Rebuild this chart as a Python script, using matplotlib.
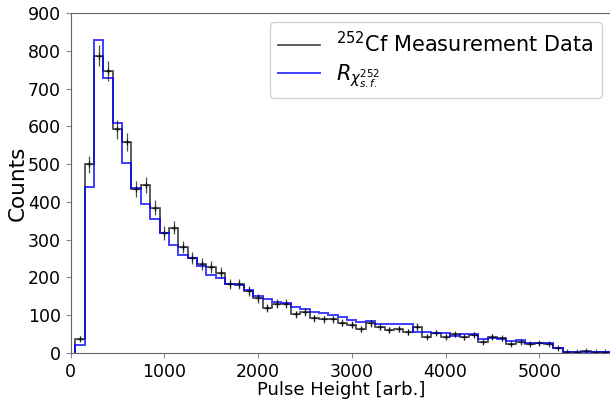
import numpy as np
import matplotlib
matplotlib.use('Agg')
import matplotlib.pyplot as plt

# bin edges (pulse height, arb.)
bin_edges = np.arange(50, 5751, 100)

# 252Cf measured counts per bin
cf_counts = [38, 500, 787, 746, 592, 558, 434, 445, 385, 318,
             332, 281, 251, 235, 228, 212, 183, 182, 165, 145,
             120, 131, 131, 102, 109, 92, 89, 89, 80, 75,
             63, 79, 68, 61, 63, 56, 70, 43, 54, 43,
             49, 42, 48, 30, 43, 39, 23, 30, 23, 26,
             25, 12, 3, 2, 6, 2, 2]

# simulated response
sim_counts = [22, 440, 828, 729, 608, 504, 436, 394, 356, 318,
              286, 259, 251, 230, 206, 198, 183, 180, 168, 151,
              143, 134, 133, 123, 116, 109, 107, 100, 94, 87,
              83, 86, 77, 77, 76, 76, 56, 56, 52, 52,
              45, 49, 51, 36, 39, 36, 32, 34, 27, 26,
              26, 12, 3, 2, 2, 2, 2]

cf_counts = np.array(cf_counts)
sim_counts = np.array(sim_counts)
centers = 0.5 * (bin_edges[:-1] + bin_edges[1:])

fig = plt.figure(figsize=(6.1, 4.0), dpi=100)
ax = fig.add_axes([70.5 / 610, 47 / 400, 541 / 610, 340 / 400])

ax.stairs(cf_counts, bin_edges, color='k', alpha=0.75, lw=1.2,
          label=r'$^{252}$Cf Measurement Data')
ax.errorbar(centers, cf_counts, yerr=np.sqrt(cf_counts), fmt='k+',
            alpha=0.7, lw=0.9, markersize=5, mew=0.9)
ax.stairs(sim_counts, bin_edges, color='blue', alpha=0.75, lw=1.4,
          label=r'$R_{\chi^{252}_{s.f.}}$')

ax.set_xlim(0, 5770)
ax.set_ylim(0, 900)
ax.set_xlabel('Pulse Height [arb.]', fontsize=13, labelpad=0)
ax.set_ylabel('Counts', fontsize=15.5, labelpad=0)
ax.tick_params(labelsize=12.5, color='#888888')
for s in ax.spines.values():
    s.set_color('#666666')

ax.legend(loc='upper right', fontsize=15, framealpha=0.9,
          labelspacing=0.3, borderaxespad=0.45)

fig.savefig('out.png', dpi=100)
